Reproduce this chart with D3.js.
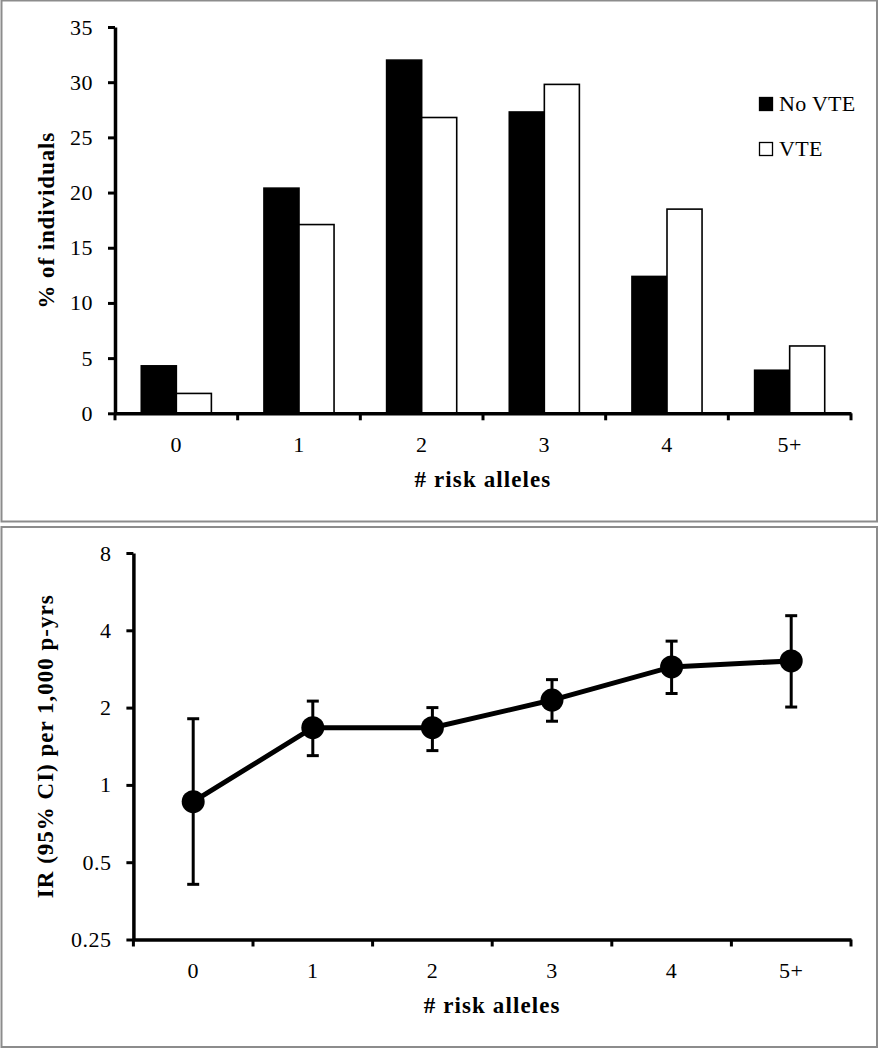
<!DOCTYPE html>
<html>
<head>
<meta charset="utf-8">
<script src="https://cdn.jsdelivr.net/npm/d3@7"></script>
<style>
  html, body { margin: 0; padding: 0; background: #fff; }
  svg { display: block; }
  text { font-family: "Liberation Serif", "Times New Roman", serif; fill: #000; }
</style>
</head>
<body>
<svg id="chart" width="879" height="1050"></svg>
<script>
// ---- Data ----
const categories = ["0", "1", "2", "3", "4", "5+"];
const seriesNames = ["No VTE", "VTE"];
const noVTE = [4.3, 20.4, 32.0, 27.3, 12.4, 3.9];
const vte = [1.8, 17.1, 26.8, 29.8, 18.5, 6.1];
const yTicksTop = [0, 5, 10, 15, 20, 25, 30, 35];

const irValues = [0.86, 1.67, 1.67, 2.14, 2.88, 3.04];
const irLower = [0.41, 1.30, 1.36, 1.77, 2.27, 2.01];
const irUpper = [1.81, 2.12, 2.00, 2.57, 3.63, 4.56];
const yTicksBottom = [0.25, 0.5, 1, 2, 4, 8];

const svg = d3.select("#chart");

// ---- Panel borders ----
svg.append("rect").attr("x", 1.5).attr("y", 0.5).attr("width", 875.5).attr("height", 521)
  .attr("fill", "none").attr("stroke", "#8c8c8c").attr("stroke-width", 2);
svg.append("rect").attr("x", 1.5).attr("y", 527).attr("width", 875.5).attr("height", 520)
  .attr("fill", "none").attr("stroke", "#8c8c8c").attr("stroke-width", 2);

function styleAxis(g) {
  g.select(".domain").attr("stroke", "#000").attr("stroke-width", 3.5);
  g.selectAll(".tick line").attr("stroke", "#000").attr("stroke-width", 3);
  g.selectAll(".tick text").attr("font-size", 22).attr("letter-spacing", 0.5)
    .attr("font-family", "'Liberation Serif', serif");
}

// ================= TOP PANEL =================
const topP = { left: 115, right: 851, top: 27, bottom: 413.3 };
const x0 = d3.scaleBand().domain(categories).range([topP.left, topP.right]).padding(0);
const x1 = d3.scaleBand().domain(seriesNames).range([0, x0.bandwidth()]).paddingInner(0).paddingOuter(0.75);
const yTop = d3.scaleLinear().domain([0, 35]).range([topP.bottom, topP.top]);

const colors = { "No VTE": "#000", "VTE": "#fff" };
const barData = categories.map((c, i) => ({ cat: c, vals: [
  { s: "No VTE", v: noVTE[i] }, { s: "VTE", v: vte[i] } ] }));

const gBars = svg.append("g");
gBars.selectAll("g").data(barData).join("g")
  .attr("transform", d => `translate(${x0(d.cat)},0)`)
  .selectAll("rect").data(d => d.vals).join("rect")
  .attr("x", d => x1(d.s))
  .attr("width", x1.bandwidth())
  .attr("y", d => yTop(d.v))
  .attr("height", d => yTop(0) - yTop(d.v))
  .attr("fill", d => colors[d.s])
  .attr("stroke", "#000").attr("stroke-width", 1.6);

// Y axis (top)
const gyTop = svg.append("g").attr("transform", `translate(${topP.left},0)`)
  .call(d3.axisLeft(yTop).tickValues(yTicksTop).tickSize(7).tickSizeOuter(0).tickPadding(15));
styleAxis(gyTop);

// X axis (top) with ticks at band edges
const gxTop = svg.append("g").attr("transform", `translate(0,${topP.bottom})`)
  .call(d3.axisBottom(x0).tickSize(7).tickSizeOuter(0).tickPadding(16));
styleAxis(gxTop);
gxTop.selectAll(".tick line").attr("transform", `translate(${-x0.bandwidth() / 2},0)`);
gxTop.append("line").attr("x1", x0.range()[1]).attr("x2", x0.range()[1])
  .attr("y1", 0).attr("y2", 7).attr("stroke", "#000").attr("stroke-width", 3);

// Axis titles (top)
svg.append("text").attr("x", (topP.left + topP.right) / 2).attr("y", 486.5)
  .attr("text-anchor", "middle").attr("font-size", 23).attr("font-weight", "bold")
  .attr("letter-spacing", 1.1).text("# risk alleles");
svg.append("text").attr("transform", `translate(54,${(topP.top + topP.bottom) / 2}) rotate(-90)`)
  .attr("text-anchor", "middle").attr("font-size", 23).attr("font-weight", "bold")
  .attr("letter-spacing", 0.9).text("% of individuals");

// Legend
const legend = svg.append("g").attr("transform", "translate(759,97)");
seriesNames.forEach((s, i) => {
  const g = legend.append("g").attr("transform", `translate(0,${i * 45})`);
  g.append("rect").attr("x", 0.5).attr("y", 0.5).attr("width", 13).attr("height", 13)
    .attr("fill", colors[s]).attr("stroke", "#000").attr("stroke-width", 1.3);
  g.append("text").attr("x", 20).attr("y", 14).attr("font-size", 22).attr("letter-spacing", 0.3).text(s);
});

// ================= BOTTOM PANEL =================
const botP = { left: 133.4, right: 851, top: 553, bottom: 939.5 };
const xb = d3.scaleBand().domain(categories).range([botP.left, botP.right]).padding(0);
const yb = d3.scaleLog().base(2).domain([0.25, 8]).range([botP.bottom, botP.top]);

// Y axis (bottom)
const gyBot = svg.append("g").attr("transform", `translate(${botP.left},0)`)
  .call(d3.axisLeft(yb).tickValues(yTicksBottom).tickFormat(d => String(d))
    .tickSize(7).tickSizeOuter(0).tickPadding(15));
styleAxis(gyBot);

// X axis (bottom)
const gxBot = svg.append("g").attr("transform", `translate(0,${botP.bottom})`)
  .call(d3.axisBottom(xb).tickSize(7).tickSizeOuter(0).tickPadding(16));
styleAxis(gxBot);
gxBot.selectAll(".tick line").attr("transform", `translate(${-xb.bandwidth() / 2},0)`);
gxBot.append("line").attr("x1", xb.range()[1]).attr("x2", xb.range()[1])
  .attr("y1", 0).attr("y2", 7).attr("stroke", "#000").attr("stroke-width", 3);

const ptData = categories.map((c, i) => ({ cat: c, v: irValues[i], lo: irLower[i], hi: irUpper[i] }));
const cx = d => xb(d.cat) + xb.bandwidth() / 2;

// error bars
const gErr = svg.append("g").attr("stroke", "#000").attr("stroke-width", 3);
gErr.selectAll("line.v").data(ptData).join("line").attr("class", "v")
  .attr("x1", cx).attr("x2", cx).attr("y1", d => yb(d.lo)).attr("y2", d => yb(d.hi));
gErr.selectAll("line.hi").data(ptData).join("line").attr("class", "hi")
  .attr("x1", d => cx(d) - 6).attr("x2", d => cx(d) + 6).attr("y1", d => yb(d.hi)).attr("y2", d => yb(d.hi));
gErr.selectAll("line.lo").data(ptData).join("line").attr("class", "lo")
  .attr("x1", d => cx(d) - 6).attr("x2", d => cx(d) + 6).attr("y1", d => yb(d.lo)).attr("y2", d => yb(d.lo));

// line
svg.append("path").datum(ptData)
  .attr("d", d3.line().x(cx).y(d => yb(d.v)))
  .attr("fill", "none").attr("stroke", "#000").attr("stroke-width", 5);

// dots
svg.append("g").selectAll("circle").data(ptData).join("circle")
  .attr("cx", cx).attr("cy", d => yb(d.v)).attr("r", 11.5).attr("fill", "#000");

// Axis titles (bottom)
svg.append("text").attr("x", (botP.left + botP.right) / 2).attr("y", 1013)
  .attr("text-anchor", "middle").attr("font-size", 23).attr("font-weight", "bold")
  .attr("letter-spacing", 1.1).text("# risk alleles");
svg.append("text").attr("transform", `translate(53,${(botP.top + botP.bottom) / 2}) rotate(-90)`)
  .attr("text-anchor", "middle").attr("font-size", 23).attr("font-weight", "bold")
  .attr("letter-spacing", 1).text("IR (95% CI) per 1,000 p-yrs");
</script>
</body>
</html>
